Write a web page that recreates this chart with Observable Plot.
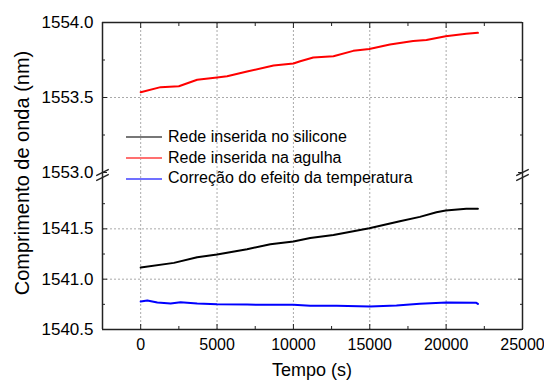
<!DOCTYPE html>
<html><head><meta charset="utf-8">
<script src="https://cdn.jsdelivr.net/npm/d3@7"></script>
<script src="https://cdn.jsdelivr.net/npm/@observablehq/plot@0.6"></script>
<style>
body{margin:0;background:#fff;}
#wrap{position:relative;width:544px;height:381px;font-family:"Liberation Sans",Arial,sans-serif;color:#000;}
#wrap svg{position:absolute;left:0;overflow:visible;}
.ttl{position:absolute;white-space:nowrap;font-size:18px;line-height:20px;}
#legend{position:absolute;left:126px;top:127px;font-size:16px;}
#legend .row{height:20.7px;line-height:20.7px;display:flex;align-items:center;white-space:nowrap;}
#legend .sw{display:inline-block;width:36px;height:0;border-top:2px solid;margin-right:6px;}
</style></head><body><div id="wrap"></div>
<script>
// ---- data ----
const tempoAgulha = [0,1305,2500,3700,5000,5660,6965,8700,10000,10445,11300,12620,13920,14970,16320,17840,18710,19970,21320,22080];
const redeAgulha  = [1553.535,1553.569,1553.575,1553.618,1553.633,1553.642,1553.673,1553.713,1553.727,1553.742,1553.767,1553.775,1553.811,1553.824,1553.853,1553.876,1553.884,1553.909,1553.925,1553.931];

const tempoSilicone = [0,2175,3700,5000,6965,8490,10000,11100,12620,14970,16970,18280,19365,19970,21320,22080];
const redeSilicone  = [1541.116,1541.162,1541.218,1541.245,1541.298,1541.347,1541.375,1541.41,1541.44,1541.506,1541.575,1541.619,1541.665,1541.682,1541.699,1541.70];

const tempoCorrecao = [0,435,1090,1960,2610,3700,5000,6965,8490,10000,11100,12840,15010,16750,18280,20020,21980,22080];
const correcao      = [1540.778,1540.788,1540.768,1540.758,1540.771,1540.758,1540.751,1540.748,1540.745,1540.745,1540.735,1540.735,1540.728,1540.738,1540.755,1540.768,1540.765,1540.755];

const legendLabels = ["Rede inserida no silicone","Rede inserida na agulha","Correção do efeito da temperatura"];
const legendColors = ["#777777","#ff7070","#7070ff"];

const xMajor = [0,5000,10000,15000,20000,25000];
const xMinor = [2500,7500,12500,17500,22500];
const xGrid  = [0,5000,10000,15000,20000];
const xDomain = [-2500,25000];

const yTopMajor = [1553.0,1553.5,1554.0];
const yTopMinor = [1553.25,1553.75];
const yTopGrid  = [1553.5];
const yTopDomain = [1553.0,1554.0];

const yBotMajor = [1540.5,1541.0,1541.5];
const yBotMinor = [1540.75,1541.25,1541.75];
const yBotGrid  = [1541.0,1541.5];
const yBotDomain = [1540.5,1542.06];

const xTitle = "Tempo (s)";
const yTitle = "Comprimento de onda (nm)";

// ---- build ----
const toRows = (ts, vs) => ts.map((t,i)=>({t, v: vs[i]}));
const frameStyle = {stroke:"#222", strokeWidth:1.5};
const gridStyle = {stroke:"#aaa", strokeOpacity:1, strokeDasharray:"2,2", strokeWidth:1};
const blank = () => "";
const fmt = d => d.toFixed(1);

const common = {
  width:544, marginLeft:102, marginRight:22,
  x:{domain:xDomain, label:null},
  style:{overflow:"visible", background:"transparent", fontFamily:'"Liberation Sans", Arial, sans-serif', color:"#000"}
};

function sideTicks(yMajor, yMinor, withLabels) {
  return [
    Plot.axisY(yMajor, {anchor:"left", tickSize:-5, tickPadding:14, tickFormat: withLabels ? fmt : blank, fontSize:17, stroke:"#222", fill:"#000"}),
    Plot.axisY(yMinor, {anchor:"left", tickSize:-3, tickFormat: blank, stroke:"#222"}),
    Plot.axisY(yMajor, {anchor:"right", tickSize:-5, tickFormat: blank, stroke:"#222"}),
    Plot.axisY(yMinor, {anchor:"right", tickSize:-3, tickFormat: blank, stroke:"#222"})
  ];
}

const topPlot = Plot.plot({
  ...common,
  height:172, marginTop:22, marginBottom:0,
  y:{domain:yTopDomain, label:null},
  marks:[
    Plot.gridX(xGrid, gridStyle),
    Plot.gridY(yTopGrid, gridStyle),
    Plot.line(toRows(tempoAgulha, redeAgulha), {x:"t", y:"v", stroke:"#ff0000", strokeWidth:2}),
    Plot.ruleY([yTopDomain[1]], frameStyle),
    Plot.ruleX(xDomain, frameStyle),
    ...sideTicks(yTopMajor, yTopMinor, true),
    Plot.axisX(xMajor, {anchor:"top", tickSize:-5, tickFormat: blank, stroke:"#222"}),
    Plot.axisX(xMinor, {anchor:"top", tickSize:-3, tickFormat: blank, stroke:"#222"})
  ]
});

const breakShape = {draw(ctx, l) { ctx.moveTo(0, l/2); ctx.lineTo(0, -l/2); }};
const breakPts = xDomain.map(x => ({x, y: yBotDomain[1]}));

const botPlot = Plot.plot({
  ...common,
  height:209, marginTop:0, marginBottom:52,
  y:{domain:yBotDomain, label:null},
  marks:[
    Plot.gridX(xGrid, gridStyle),
    Plot.gridY(yBotGrid, gridStyle),
    Plot.line(toRows(tempoSilicone, redeSilicone), {x:"t", y:"v", stroke:"#000000", strokeWidth:2}),
    Plot.line(toRows(tempoCorrecao, correcao), {x:"t", y:"v", stroke:"#0000ff", strokeWidth:2}),
    Plot.ruleY([yBotDomain[0]], frameStyle),
    Plot.ruleX(xDomain, frameStyle),
    ...sideTicks(yBotMajor, yBotMinor, true),
    Plot.axisX(xMajor, {anchor:"bottom", tickSize:-5, tickPadding:14, tickFormat: d => String(d), fontSize:16, stroke:"#222", fill:"#000"}),
    Plot.axisX(xMinor, {anchor:"bottom", tickSize:-3, tickFormat: blank, stroke:"#222"}),
    Plot.vector(breakPts, {x:"x", y:"y", length:13, rotate:63, anchor:"start", shape:breakShape, stroke:"#222", strokeWidth:1.3, dy:0}),
    Plot.vector(breakPts, {x:"x", y:"y", length:13, rotate:63, anchor:"start", shape:breakShape, stroke:"#222", strokeWidth:1.3, dy:5})
  ]
});

const wrap = document.getElementById("wrap");
topPlot.style.top = "0px";
botPlot.style.top = "172px";
wrap.appendChild(topPlot);
wrap.appendChild(botPlot);

const xt = document.createElement("div");
xt.className = "ttl"; xt.textContent = xTitle;
xt.style.left = "312px"; xt.style.top = "360px"; xt.style.transform = "translateX(-50%)";
wrap.appendChild(xt);

const yt = document.createElement("div");
yt.className = "ttl"; yt.textContent = yTitle;
yt.style.fontSize = "20px";
yt.style.left = "22px"; yt.style.top = "173px";
yt.style.transform = "translate(-50%,-50%) rotate(-90deg)";
yt.style.transformOrigin = "50% 50%";
wrap.appendChild(yt);

const lg = document.createElement("div");
lg.id = "legend";
legendLabels.forEach((lab, i) => {
  const r = document.createElement("div"); r.className = "row";
  const s = document.createElement("span"); s.className = "sw"; s.style.borderTopColor = legendColors[i];
  const t = document.createElement("span"); t.textContent = lab;
  r.appendChild(s); r.appendChild(t); lg.appendChild(r);
});
wrap.appendChild(lg);
</script>
</body></html>
